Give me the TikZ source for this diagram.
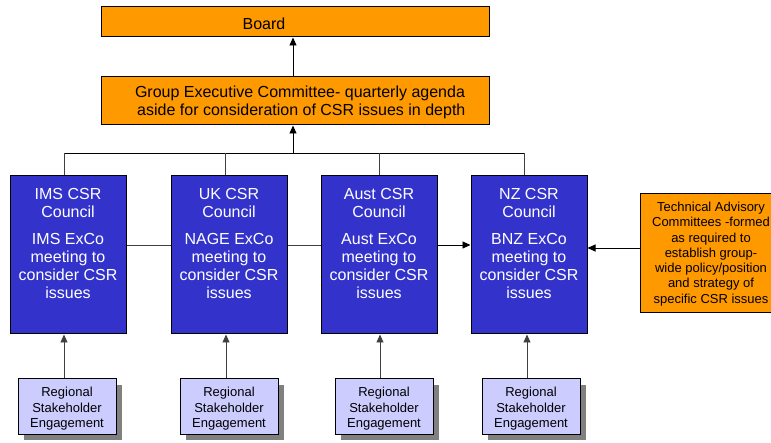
\documentclass[tikz,border=0pt]{standalone}
\usepackage{fontspec}
\setmainfont{Liberation Sans}
\usetikzlibrary{arrows.meta,shadows}
\definecolor{csrorange}{HTML}{FF9900}
\definecolor{csrblue}{HTML}{3333CC}
\definecolor{csrlilac}{HTML}{CCCCFF}
\definecolor{csrshadow}{HTML}{808080}
\definecolor{csrline}{HTML}{404040}
\begin{document}
\begin{tikzpicture}[x=1pt,y=-1pt,
  orangebox/.style={draw=black, line width=1pt, fill=csrorange, inner sep=0pt},
  bluebox/.style={draw=black, line width=1pt, fill=csrblue, inner sep=0pt, minimum width=116pt, minimum height=158pt},
  regbox/.style={draw=black, line width=1pt, fill=csrlilac, inner sep=0pt, minimum width=98pt, minimum height=55pt,
    general shadow={fill=csrshadow, shadow xshift=6pt, shadow yshift=-6pt}},
  bigtext/.style={font=\fontsize{16}{18}\selectfont, align=center, inner sep=0pt},
  bluetext/.style={bigtext, text=white},
  smalltext/.style={font=\fontsize{13}{15.5}\selectfont, align=center, inner sep=0pt},
  techtext/.style={font=\fontsize{13}{15.3}\selectfont, align=center, inner sep=0pt},
  conn/.style={draw=csrline, line width=0.9pt},
  arr/.style={conn, -{Triangle[length=8pt,width=7pt]}},
]
\useasboundingbox (0,0) rectangle (771,443);
\clip (0,0) rectangle (771,443);

% top boxes
\node[orangebox, minimum width=388pt, minimum height=30pt] (board) at (295,22) {};
\node[bigtext] (boardt) at (264,24) {Board};
\node[orangebox, minimum width=388pt, minimum height=48pt] (gec) at (295,101) {};
\node[bigtext] (gect) at (300,102) {Group Executive Committee- quarterly agenda\\ \,aside for consideration of CSR issues in depth};

% councils
\node[bluebox] (ims) at (68,255) {};
\node[bluebox] (uk) at (229,255) {};
\node[bluebox] (aust) at (379,255) {};
\node[bluebox] (nz) at (529,255) {};
\node[bluetext] (imst) at (68,243) {IMS CSR\\Council\\[9pt]IMS ExCo\\meeting to\\consider CSR\\issues};
\node[bluetext] (ukt) at (229,243) {UK CSR\\Council\\[9pt]NAGE ExCo\\meeting to\\consider CSR\\issues};
\node[bluetext] (austt) at (379,243) {Aust CSR\\Council\\[9pt]Aust ExCo\\meeting to\\consider CSR\\issues};
\node[bluetext] (nzt) at (529,243) {NZ CSR\\Council\\[9pt]BNZ ExCo\\meeting to\\consider CSR\\issues};

% technical advisory
\node[orangebox, minimum width=142pt, minimum height=119pt] (tech) at (711,253.5) {};
\node[techtext] (techt) at (711,254) {Technical Advisory\\Committees -formed\\as required to\\establish group-\\wide policy/position\\and strategy of\\specific CSR issues};

% regional
\node[regbox] (reg1) at (67,406.5) {};
\node[regbox] (reg2) at (229,406.5) {};
\node[regbox] (reg3) at (384,406.5) {};
\node[regbox] (reg4) at (531,406.5) {};
\node[smalltext] (reg1t) at (67,409) {Regional\\Stakeholder\\Engagement};
\node[smalltext] (reg2t) at (229,409) {Regional\\Stakeholder\\Engagement};
\node[smalltext] (reg3t) at (384,409) {Regional\\Stakeholder\\Engagement};
\node[smalltext] (reg4t) at (531,409) {Regional\\Stakeholder\\Engagement};

% bus
\coordinate (b1) at (64,153);
\coordinate (b2) at (225,153);
\coordinate (b3) at (379,153);
\coordinate (b4) at (524,153);
\coordinate (bm) at (293,153);
\draw[conn, draw=black] (b1) -- (b4);
\draw[conn] (b1) -- (ims.north -| b1);
\draw[conn] (b2) -- (uk.north -| b2);
\draw[conn] (b3) -- (aust.north -| b3);
\draw[conn] (b4) -- (nz.north -| b4);
\draw[arr, draw=black] (bm) -- (gec.south -| bm);
\draw[arr, draw=black] (gec.north -| bm) -- (board.south -| bm);

% horizontal links
\coordinate (h) at (0,245);
\coordinate (t) at (0,248);
\draw[conn] (ims.east |- h) -- (uk.west |- h);
\draw[conn] (uk.east |- h) -- (aust.west |- h);
\draw[arr, draw=black] (aust.east |- h) -- (nz.west |- h);
\draw[arr, draw=black] (tech.west |- t) -- (nz.east |- t);

% regional arrows
\coordinate (r1) at (64,0);
\coordinate (r2) at (226,0);
\coordinate (r3) at (380,0);
\coordinate (r4) at (527,0);
\draw[arr] (reg1.north -| r1) -- (ims.south -| r1);
\draw[arr] (reg2.north -| r2) -- (uk.south -| r2);
\draw[arr] (reg3.north -| r3) -- (aust.south -| r3);
\draw[arr] (reg4.north -| r4) -- (nz.south -| r4);
\end{tikzpicture}
\end{document}
